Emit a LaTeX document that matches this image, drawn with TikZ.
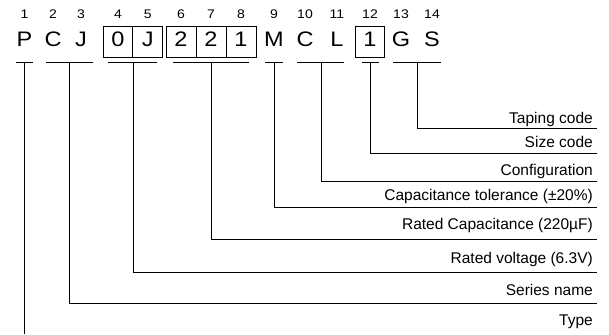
\documentclass[tikz,border=0pt]{standalone}
\usepackage{fontspec}
\setmainfont{Liberation Sans}
\newfontfamily\widefont[FakeStretch=1.12]{Liberation Sans}
\begin{document}
\begin{tikzpicture}[x=1pt,y=-1pt,
  big/.style={font=\widefont\fontsize{21}{21}\selectfont, anchor=base, inner sep=0pt},
  num/.style={font=\widefont\fontsize{12.5}{12.5}\selectfont, anchor=base, inner sep=0pt},
  lbl/.style={font=\fontsize{15.5}{15.5}\selectfont, anchor=base east, inner sep=0pt},
  cellline/.style={line width=0.8pt},
  ln/.style={line width=0.8pt, black}]
\useasboundingbox (0,0) rectangle (609,334);
% letters and position digits
\foreach \x/\c/\d in {24.5/P/1, 53/C/2, 81/J/3, 118/0/4, 147.7/J/5, 181/2/6, 211/2/7, 241/1/8,
                      274/M/9, 305/C/10, 337/L/11, 370/1/12, 401/G/13, 432/S/14}{
  \node[big] (l\d) at (\x,46.7) {\c};
  \node[num] (n\d) at (\x,19) {\d};
}
% boxes
\draw[cellline] (103.3,26.7) rectangle (162.7,57.7);
\draw[cellline] (132.7,26.7) -- (132.7,57.7);
\draw[cellline] (166,26.7) rectangle (256,57.7);
\draw[cellline] (196,26.7) -- (196,57.7);
\draw[cellline] (226,26.7) -- (226,57.7);
\draw[cellline] (355.7,26.7) rectangle (384.3,57.7);
% underlines with their midpoints
\foreach \n/\a/\b/\m in {p/16/33/24.5, cj/46/93/69.5, oj/108/157/133, cap/173/249/211,
                         m/265/283/274, cl/297/344/321, cf/362/379/370, gs/393/441/417}{
  \draw[ln] (\a,62.7) -- (\b,62.7);
  \coordinate (u\n) at (\m,62.7);
}
% line ends at the right
\foreach \n/\y in {gs/128, cf/153, cl/181, m/207, cap/239, oj/272, cj/303}{
  \coordinate (e\n) at (597,\y);
}
\coordinate (ep) at (24.5,334);
% labels
\node[lbl] (tgs) at (593,123) {Taping code};
\node[lbl] (tcf) at (593,147) {Size code};
\node[lbl] (tcl) at (593,175) {Configuration};
\node[lbl] (tm) at (593,200) {Capacitance tolerance (±20\%)};
\node[lbl] (tcap) at (593,229) {Rated Capacitance (220µF)};
\node[lbl] (toj) at (593,263) {Rated voltage (6.3V)};
\node[lbl] (tcj) at (593,295) {Series name};
\node[lbl] (tp) at (593,325) {Type};
% connectors
\foreach \n in {gs, cf, cl, m, cap, oj, cj}{
  \draw[ln] (u\n) |- (e\n);
}
\draw[ln] (up) -- (ep);
\end{tikzpicture}
\end{document}
